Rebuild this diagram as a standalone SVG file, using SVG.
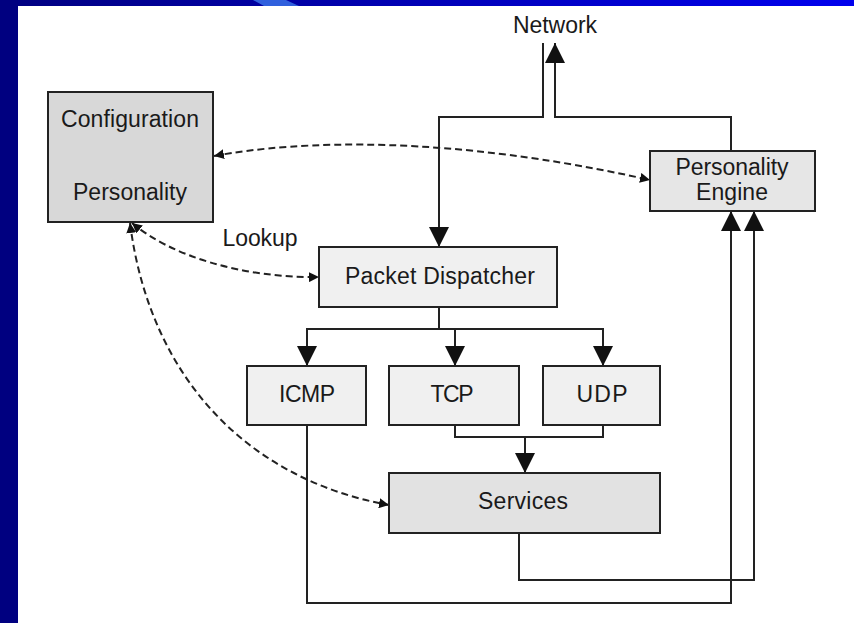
<svg xmlns="http://www.w3.org/2000/svg" width="854" height="623" viewBox="0 0 854 623">
<defs>
<linearGradient id="topband" x1="0" y1="0" x2="1" y2="0">
<stop offset="0" stop-color="#000080"/>
<stop offset="1" stop-color="#0000EE"/>
</linearGradient>
<marker id="arr" markerUnits="userSpaceOnUse" viewBox="0 0 20 20" refX="20" refY="10" markerWidth="20" markerHeight="20" orient="auto">
<path d="M0,0 L20,10 L0,20 Z" fill="#111"/>
</marker>
<marker id="darr" markerUnits="userSpaceOnUse" viewBox="0 0 10 10" refX="10" refY="5" markerWidth="10" markerHeight="10" orient="auto-start-reverse">
<path d="M0,0 L10,5 L0,10 Z" fill="#111"/>
</marker>
</defs>
<style>
.box{stroke:#222;stroke-width:2}
.t{font-family:"Liberation Sans",Arial,sans-serif;font-size:23px;fill:#1a1a1a;text-anchor:middle}
.ln{fill:none;stroke:#222;stroke-width:2}
.dash{fill:none;stroke:#222;stroke-width:2;stroke-dasharray:7 4}
</style>
<rect x="0" y="0" width="854" height="623" fill="#ffffff"/>
<rect x="0" y="0" width="854" height="6" fill="url(#topband)"/>
<polygon points="253,0 286,0 299,6 264,6" fill="#3060DD"/>
<rect x="0" y="0" width="18" height="623" fill="#000080"/>

<g id="connectors">
<path class="ln" d="M543,43 V117 H439 V247" marker-end="url(#arr)"/>
<path class="ln" d="M731,151 V117 H555 V43" marker-end="url(#arr)"/>
<path class="ln" d="M439,307 V329 H307 V366" marker-end="url(#arr)"/>
<path class="ln" d="M455,329 V366" marker-end="url(#arr)"/>
<path class="ln" d="M439,329 H603 V366" marker-end="url(#arr)"/>
<path class="ln" d="M455,425 V437 H525 V473" marker-end="url(#arr)"/>
<path class="ln" d="M603,425 V437 H525"/>
<path class="ln" d="M307,425 V603 H731 V211" marker-end="url(#arr)"/>
<path class="ln" d="M519,533 V580 H754 V211" marker-end="url(#arr)"/>
<path class="dash" d="M214,156 C300,140 450,135 650,180" marker-start="url(#darr)" marker-end="url(#darr)"/>
<path class="dash" d="M132,223 C170,255 240,278 319,277" marker-start="url(#darr)" marker-end="url(#darr)"/>
<path class="dash" d="M130,223 C150,380 250,480 389,505" marker-start="url(#darr)" marker-end="url(#darr)"/>
</g>

<g id="network">
<text class="t" x="555" y="33" textLength="84">Network</text>
</g>
<g id="lookup">
<text class="t" x="260" y="246" textLength="75">Lookup</text>
</g>
<g id="config">
<rect class="box" x="48" y="92" width="165" height="130" fill="#d8d8d8"/>
<text class="t" x="130" y="127" textLength="138">Configuration</text>
<text class="t" x="130" y="200" textLength="114">Personality</text>
</g>
<g id="engine">
<rect class="box" x="650" y="151" width="165" height="60" fill="#e6e6e6"/>
<text class="t" x="732" y="175" textLength="113">Personality</text>
<text class="t" x="732" y="200" textLength="72">Engine</text>
</g>
<g id="dispatcher">
<rect class="box" x="319" y="247" width="238" height="60" fill="#f0f0f0"/>
<text class="t" x="440" y="284" textLength="190">Packet Dispatcher</text>
</g>
<g id="icmp">
<rect class="box" x="247" y="366" width="119" height="59" fill="#f0f0f0"/>
<text class="t" x="307" y="402" textLength="56">ICMP</text>
</g>
<g id="tcp">
<rect class="box" x="389" y="366" width="130" height="59" fill="#f0f0f0"/>
<text class="t" x="452" y="402" textLength="43">TCP</text>
</g>
<g id="udp">
<rect class="box" x="543" y="366" width="117" height="59" fill="#f0f0f0"/>
<text class="t" x="602" y="402" textLength="51">UDP</text>
</g>
<g id="services">
<rect class="box" x="389" y="473" width="271" height="60" fill="#e2e2e2"/>
<text class="t" x="523" y="509" textLength="90">Services</text>
</g>
</svg>
